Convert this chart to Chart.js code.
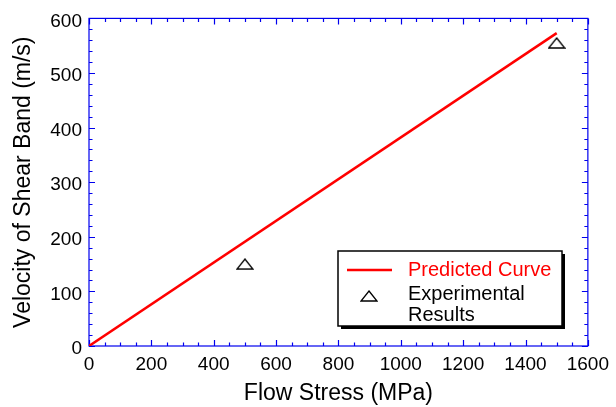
<!DOCTYPE html>
<html>
<head>
<meta charset="utf-8">
<script src="https://cdn.jsdelivr.net/npm/chart.js@4.4.0/dist/chart.umd.min.js"></script>
<style>
  html, body { margin: 0; padding: 0; background: #fff; }
  #wrap { width: 616px; height: 407px; }
</style>
</head>
<body>
<div id="wrap"><canvas id="shearChart" width="616" height="407"></canvas></div>
<script>
// predicted curve (straight line through the origin)
const predStress = [0, 1500];
const predVelocity = [0, 573];

// measured points
const expStress = [500, 1500];
const expVelocity = [150, 555];

const xTicks = [0, 200, 400, 600, 800, 1000, 1200, 1400, 1600];
const yTicks = [0, 100, 200, 300, 400, 500, 600];

const FONT = "'Liberation Sans', Arial, Helvetica, sans-serif";
const AXIS_BLUE = '#0000ee';

// open triangle used for the experimental points
function makeTriangle(w, h) {
    const c = document.createElement('canvas');
    c.width = w + 2;
    c.height = h + 2;
    const g = c.getContext('2d');
    g.strokeStyle = '#000';
    g.lineWidth = 1.3;
    g.lineJoin = 'miter';
    g.beginPath();
    g.moveTo(w / 2 + 1, 1);
    g.lineTo(w + 1, h + 1);
    g.lineTo(1, h + 1);
    g.closePath();
    g.stroke();
    return c;
}
const triangle = makeTriangle(16, 10);

// frame on all four sides with inward ticks
const framePlugin = {
    id: 'frame',
    beforeDatasetsDraw(chart) {
        const { ctx, chartArea: a, scales: { x, y } } = chart;
        ctx.save();
        ctx.strokeStyle = AXIS_BLUE;
        ctx.lineWidth = 1.2;
        ctx.strokeRect(a.left, a.top, a.right - a.left, a.bottom - a.top);
        ctx.beginPath();
        for (let v = 0; v <= 1600; v += 50) {
            const px = Math.round(x.getPixelForValue(v)) + 0.5;
            const len = v % 200 === 0 ? 6 : 3.5;
            ctx.moveTo(px, a.bottom);
            ctx.lineTo(px, a.bottom - len);
            ctx.moveTo(px, a.top);
            ctx.lineTo(px, a.top + len);
        }
        for (let v = 0; v <= 600; v += 20) {
            const py = Math.round(y.getPixelForValue(v)) + 0.5;
            const len = v % 100 === 0 ? 6 : 3.5;
            ctx.moveTo(a.left, py);
            ctx.lineTo(a.left + len, py);
            ctx.moveTo(a.right, py);
            ctx.lineTo(a.right - len, py);
        }
        ctx.stroke();
        ctx.restore();
    }
};

// boxed legend with drop shadow
const legendPlugin = {
    id: 'boxLegend',
    afterDraw(chart) {
        const { ctx } = chart;
        const bx = 338, by = 251, bw = 224, bh = 75;
        ctx.save();
        ctx.fillStyle = '#000';
        ctx.fillRect(bx + 3, by + 3, bw, bh);
        ctx.fillStyle = '#fff';
        ctx.fillRect(bx, by, bw, bh);
        ctx.strokeStyle = '#000';
        ctx.lineWidth = 1.5;
        ctx.strokeRect(bx, by, bw, bh);

        ctx.strokeStyle = '#ff0000';
        ctx.lineWidth = 2.5;
        ctx.beginPath();
        ctx.moveTo(347, 270);
        ctx.lineTo(392, 270);
        ctx.stroke();

        ctx.drawImage(triangle, 360, 290);

        ctx.font = '20px ' + FONT;
        ctx.textBaseline = 'middle';
        ctx.textAlign = 'left';
        ctx.fillStyle = '#ff0000';
        ctx.fillText('Predicted Curve', 408, 270);
        ctx.fillStyle = '#000';
        ctx.fillText('Experimental', 408, 294);
        ctx.fillText('Results', 408, 315);
        ctx.restore();
    }
};

const ctx = document.getElementById('shearChart').getContext('2d');
const chart = new Chart(ctx, {
    type: 'scatter',
    data: {
        datasets: [{
            label: 'Predicted Curve',
            data: predStress.map((s, i) => ({ x: s, y: predVelocity[i] })),
            showLine: true,
            borderColor: '#ff0000',
            borderWidth: 2.5,
            pointRadius: 0,
            fill: false,
            order: 2
        }, {
            label: 'Experimental Results',
            data: expStress.map((s, i) => ({ x: s, y: expVelocity[i] })),
            showLine: false,
            pointStyle: triangle,
            order: 1
        }]
    },
    options: {
        responsive: false,
        animation: false,
        layout: { padding: { top: 18, right: 27, left: 0, bottom: 0 } },
        plugins: {
            legend: { display: false },
            tooltip: { enabled: false }
        },
        scales: {
            x: {
                type: 'linear',
                min: 0,
                max: 1600,
                afterFit(scale) { scale.height = 61; },
                afterBuildTicks(scale) { scale.ticks = xTicks.map(v => ({ value: v })); },
                grid: { display: false, drawTicks: false },
                border: { display: false },
                ticks: {
                    color: '#000',
                    padding: 7,
                    font: { family: FONT, size: 19 },
                    callback: v => String(v)
                },
                title: {
                    display: true,
                    text: 'Flow Stress (MPa)',
                    color: '#000',
                    padding: { top: 2, bottom: 0 },
                    font: { family: FONT, size: 23 }
                }
            },
            y: {
                type: 'linear',
                min: 0,
                max: 600,
                afterFit(scale) { scale.width = 89; },
                afterBuildTicks(scale) { scale.ticks = yTicks.map(v => ({ value: v })); },
                grid: { display: false, drawTicks: false },
                border: { display: false },
                ticks: {
                    color: '#000',
                    padding: 7,
                    labelOffset: 3,
                    font: { family: FONT, size: 19 },
                    callback: v => String(v)
                },
                title: {
                    display: true,
                    text: 'Velocity of Shear Band (m/s)',
                    color: '#000',
                    padding: { top: 10, bottom: 0 },
                    font: { family: FONT, size: 23 }
                }
            }
        }
    },
    plugins: [framePlugin, legendPlugin]
});
</script>
</body>
</html>
